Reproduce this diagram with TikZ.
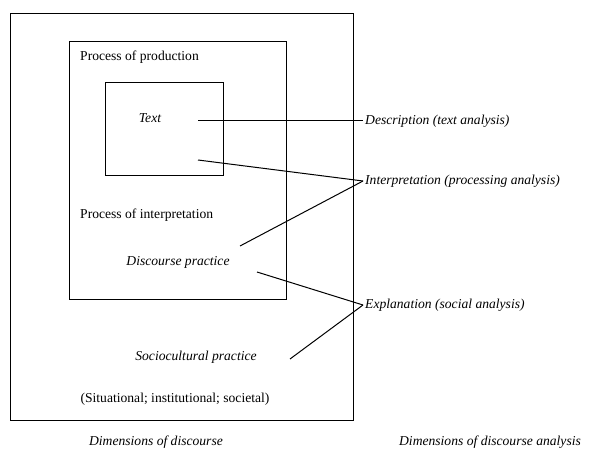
\documentclass[tikz,border=0pt]{standalone}
\usepackage{fontspec}
\setmainfont{Liberation Serif}
\begin{document}
\begin{tikzpicture}[x=1pt,y=-1pt,
  box/.style={draw, line width=1pt},
  conn/.style={line width=1pt},
  plain/.style={inner sep=0pt, font=\fontsize{13.6}{16}\selectfont},
  slant/.style={inner sep=0pt, font=\fontsize{13.6}{16}\selectfont\itshape},
  anl/.style={slant, anchor=west, inner sep=2pt}]
%Fix the margins
\useasboundingbox (0,0) rectangle (593,454);
%Outer box: sociocultural practice
\draw[box] (10,14) rectangle (353,420);
%Middle box: discourse practice
\draw[box] (69,42) rectangle (286,299);
%Inner box: text
\draw[box] (105,83) rectangle (223,176);
%Texts in the boxes
\node [plain, anchor=west] (prod) at (80,57) {Process of production};
\node [slant] (text) at (150,118) {Text};
\node [plain, anchor=west] (interp) at (80,215) {Process of interpretation};
\node [slant] (dp) at (178,262) {Discourse practice};
\node [slant] (sp) at (196,357) {Sociocultural practice};
\node [plain] (sit) at (175,399) {(Situational; institutional; societal)};
%Captions
\node [slant] (dimd) at (156,442) {Dimensions of discourse};
\node [slant] (dimda) at (490,442) {Dimensions of discourse analysis};
%Dimensions of analysis
\node [anl] (descr) at (363,121) {Description (text analysis)};
\node [anl] (inter) at (363,181) {Interpretation (processing analysis)};
\node [anl] (expl) at (363,305) {Explanation (social analysis)};
%Free ends of the connectors
\coordinate (c1) at (198,121);
\coordinate (c2) at (198,160);
\coordinate (c3) at (240,246);
\coordinate (c4) at (257,272);
\coordinate (c5) at (290,359);
%Connectors
\draw[conn] (c1) -- (descr.west);
\draw[conn] (c2) -- (inter.west);
\draw[conn] (c3) -- (inter.west);
\draw[conn] (c4) -- (expl.west);
\draw[conn] (c5) -- (expl.west);
\end{tikzpicture}
\end{document}
